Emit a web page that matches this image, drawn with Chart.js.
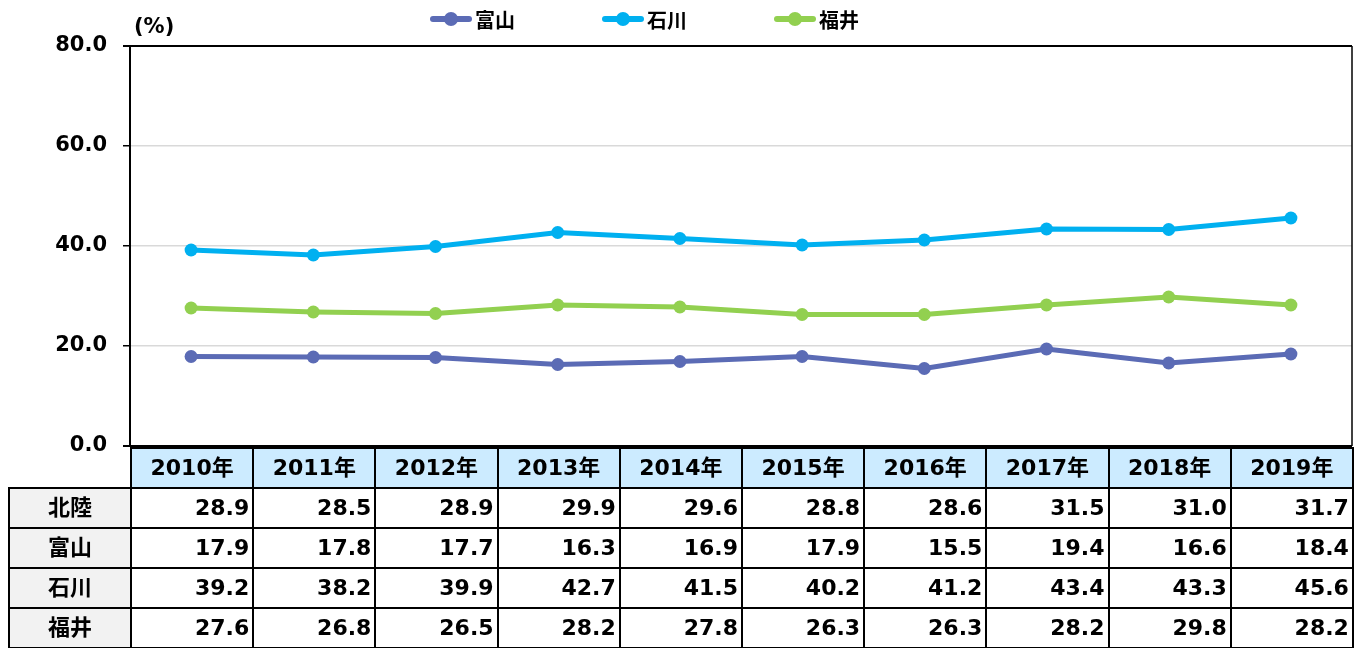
<!DOCTYPE html>
<html><head><meta charset="utf-8">
<script src="https://cdn.jsdelivr.net/npm/chart.js@4"></script>
<style>
html,body{margin:0;padding:0;background:#fff;}
#wrap{position:relative;width:1365px;height:648px;overflow:hidden;font-family:"DejaVu Sans","Noto Sans CJK JP",sans-serif;font-weight:bold;color:#000;}
#c{position:absolute;left:0;top:0;}
#unit{position:absolute;left:134px;top:14px;font-size:21px;}
.lg{position:absolute;top:6px;height:26px;display:flex;align-items:center;font-size:20px;}
.lg .mk{position:relative;width:42px;height:26px;margin-right:3px;}
.lg .mk .ln{position:absolute;left:0;top:10px;width:42px;height:6px;border-radius:3px;}
.lg .mk .dt{position:absolute;left:14px;top:6px;width:14px;height:14px;border-radius:7px;}
#tbl{position:absolute;border-collapse:collapse;table-layout:fixed;font-size:22px;}
#tbl td{border:2.5px solid #000;height:40px;padding:0 3px;box-sizing:border-box;line-height:36px;white-space:nowrap;overflow:hidden;}
#tbl td.hd{background:#CCEBFF;text-align:center;}
#tbl td.rl{background:#F2F2F2;text-align:center;}
#tbl td.v{text-align:right;}
#tbl td.blank{border:none;background:transparent;}
</style>
</head><body>
<div id="wrap">
<canvas id="c" width="1365" height="648"></canvas>
<div id="unit">(%)</div>
<div id="legend"></div>
<table id="tbl"></table>
</div>
<script>
const years = ['2010年','2011年','2012年','2013年','2014年','2015年','2016年','2017年','2018年','2019年'];
const rowNames = ['北陸','富山','石川','福井'];
const hokuriku = [28.9,28.5,28.9,29.9,29.6,28.8,28.6,31.5,31.0,31.7];
const toyama   = [17.9,17.8,17.7,16.3,16.9,17.9,15.5,19.4,16.6,18.4];
const ishikawa = [39.2,38.2,39.9,42.7,41.5,40.2,41.2,43.4,43.3,45.6];
const fukui    = [27.6,26.8,26.5,28.2,27.8,26.3,26.3,28.2,29.8,28.2];
const yTicks = [0,20,40,60,80];
const colors = {toyama:'#5B6BB5', ishikawa:'#00B0F0', fukui:'#92D050'};

const series = [
  {label:'富山', data:toyama, color:colors.toyama},
  {label:'石川', data:ishikawa, color:colors.ishikawa},
  {label:'福井', data:fukui, color:colors.fukui}
];

// legend
const lg = document.getElementById('legend');
series.forEach((s,i)=>{
  const d = document.createElement('div');
  d.className='lg';
  d.style.left = (430 + i*172) + 'px';
  d.innerHTML = '<div class="mk"><div class="ln" style="background:'+s.color+'"></div><div class="dt" style="background:'+s.color+'"></div></div><span>'+s.label+'</span>';
  lg.appendChild(d);
});

const frame = {
  id:'frame',
  afterDraw(chart){
    const a = chart.chartArea, ctx = chart.ctx;
    ctx.save();
    ctx.strokeStyle='#000';
    ctx.lineWidth=2;
    ctx.beginPath();
    ctx.moveTo(a.left-7, a.top); ctx.lineTo(a.right, a.top);
    ctx.stroke();
    ctx.lineWidth=1.5;
    ctx.beginPath();
    ctx.moveTo(a.right, a.top); ctx.lineTo(a.right, a.bottom);
    ctx.stroke();
    ctx.lineWidth=2;
    ctx.beginPath();
    ctx.moveTo(a.left-7, a.bottom); ctx.lineTo(a.right, a.bottom);
    ctx.stroke();
    ctx.restore();
  },
  afterRender(chart){ buildTable(chart); }
};

let built=false;
function buildTable(chart){
  if(built) return; built=true;
  const a = chart.chartArea;
  const tbl = document.getElementById('tbl');
  const firstLeft = 8;
  tbl.style.left = firstLeft + 'px';
  tbl.style.top = (a.bottom + 1) + 'px';
  const cw = a.width / years.length;
  let html = '<colgroup><col style="width:'+(a.left-firstLeft)+'px">';
  years.forEach(()=>{ html += '<col style="width:'+cw+'px">'; });
  html += '</colgroup>';
  tbl.style.width = (a.right - firstLeft) + 'px';
  html += '<tr><td class="blank"></td>' + years.map(y=>'<td class="hd">'+y+'</td>').join('') + '</tr>';
  const rows = [hokuriku, toyama, ishikawa, fukui];
  rows.forEach((r,i)=>{
    html += '<tr><td class="rl">'+rowNames[i]+'</td>' + r.map(v=>'<td class="v">'+v.toFixed(1)+'</td>').join('') + '</tr>';
  });
  tbl.innerHTML = html;
}

new Chart(document.getElementById('c'), {
  type:'line',
  data:{
    labels: years,
    datasets: series.map(s=>({
      label:s.label, data:s.data,
      borderColor:s.color, backgroundColor:s.color,
      borderWidth:5, pointRadius:6.5, pointHoverRadius:6.5,
      pointBackgroundColor:s.color, pointBorderColor:s.color, pointBorderWidth:0,
      tension:0
    }))
  },
  options:{
    responsive:false, animation:false,
    layout:{padding:{left:0,right:13,top:46,bottom:202}},
    plugins:{legend:{display:false}, tooltip:{enabled:false}},
    scales:{
      x:{display:false, offset:true},
      y:{
        min:0, max:80,
        afterFit(s){ s.width = 130; },
        afterBuildTicks(s){ s.ticks = yTicks.map(v=>({value:v})); },
        border:{color:'#000', width:2},
        grid:{
          color:(c)=> (c.tick && (c.tick.value===0 || c.tick.value===80)) ? 'rgba(0,0,0,0)' : '#D9D9D9',
          lineWidth:1.5, tickLength:7, tickColor:'#000', drawTicks:true
        },
        ticks:{
          padding:16, color:'#000',
          font:{family:'"DejaVu Sans","Noto Sans CJK JP",sans-serif', size:21, weight:'bold'},
          callback:(v)=>Number(v).toFixed(1)
        }
      }
    }
  },
  plugins:[frame]
});
</script>
</body></html>
